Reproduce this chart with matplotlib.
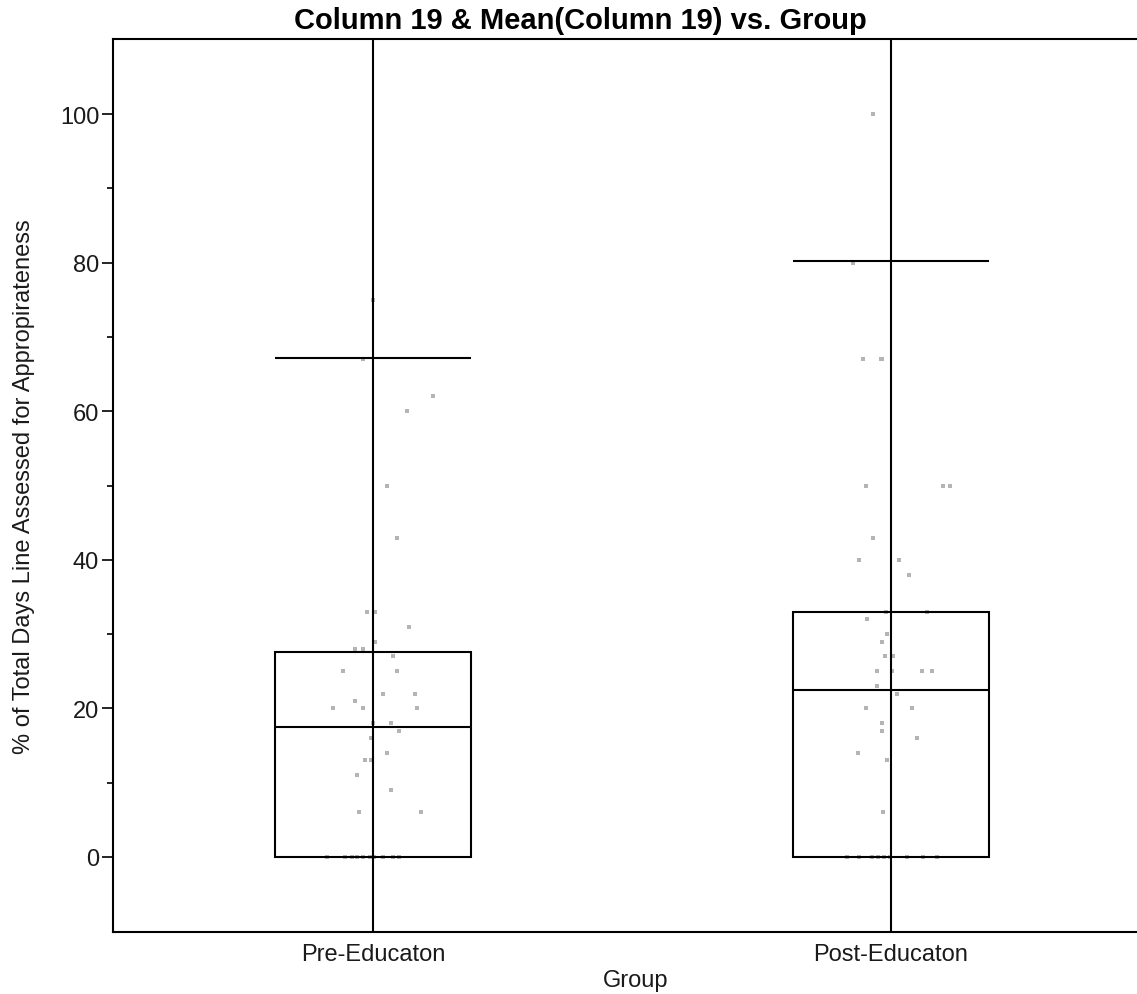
import matplotlib
matplotlib.use("Agg")
import matplotlib.pyplot as plt
import numpy as np

plt.rcParams['font.family'] = ['Liberation Sans', 'DejaVu Sans']

# Groups and summary values
groups = ['Pre-Educaton', 'Post-Educaton']
box_q1 = [0, 0]
box_median = [17.5, 22.5]
box_q3 = [27.6, 33.0]
upper_line = [67.2, 80.2]

# Individual points (value, horizontal jitter in group units)
pre_values = [75, 67, 62, 60, 50, 43, 33, 33, 31, 29, 28, 28, 27, 25, 25, 22, 22, 21,
              20, 20, 20, 18, 18, 17, 16, 14, 13, 13, 11, 9, 6, 6,
              0, 0, 0, 0, 0, 0, 0, 0, 0, 0]
pre_jitter = [0.0, -0.019, 0.116, 0.066, 0.027, 0.046, -0.012, 0.004, 0.069, 0.004,
              -0.035, -0.019, 0.039, -0.058, 0.046, 0.019, 0.081, -0.035, -0.077, -0.019,
              0.085, 0.0, 0.035, 0.050, -0.004, 0.027, -0.015, -0.004, -0.031, 0.035,
              -0.027, 0.093,
              -0.089, -0.054, -0.041, -0.031, -0.019, -0.006, 0.002, 0.019, 0.039, 0.050]

post_values = [100, 80, 67, 67, 67, 50, 50, 50, 43, 40, 40, 38, 33, 33, 32, 30, 29, 27,
               27, 25, 25, 25, 25, 23, 22, 20, 20, 18, 17, 16, 14, 13, 6,
               0, 0, 0, 0, 0, 0, 0, 0, 0]
post_jitter = [-0.035, -0.073, -0.054, -0.019, -0.017, -0.048, 0.100, 0.114, -0.035, -0.062,
               0.015, 0.035, -0.010, 0.069, -0.046, -0.008, -0.017, -0.012, 0.004, -0.027,
               0.002, 0.060, 0.079, -0.027, 0.012, -0.048, 0.041, -0.017, -0.017, 0.050,
               -0.064, -0.008, -0.015,
               -0.085, -0.062, -0.037, -0.025, -0.014, -0.002, 0.031, 0.062, 0.089]

fig = plt.figure(figsize=(11.37, 9.95), dpi=100)
ax = fig.add_axes([0.0994, 0.0623, 0.9006, 0.8975])

x = np.arange(len(groups))
box_w = 0.38
lw = 1.5
txt = '#1a1a1a'

# jittered points
ax.scatter(x[0] + np.array(pre_jitter), pre_values, marker='s', s=10, color='#b4b4b4',
           linewidths=0, zorder=1)
ax.scatter(x[1] + np.array(post_jitter), post_values, marker='s', s=10, color='#b4b4b4',
           linewidths=0, zorder=1)

# boxes
heights = np.array(box_q3) - np.array(box_q1)
ax.bar(x, heights, bottom=box_q1, width=box_w, facecolor='none', edgecolor='black',
       linewidth=lw, zorder=2)
ax.hlines(box_median, x - box_w / 2, x + box_w / 2, color='black', linewidth=lw, zorder=2)
ax.hlines(upper_line, x - box_w / 2, x + box_w / 2, color='black', linewidth=lw, zorder=2)
for xi in x:
    ax.axvline(xi, color='black', linewidth=lw, zorder=2)

ax.set_xlim(-0.502, 1.475)
ax.set_ylim(-10.1, 110.1)
ax.set_yticks([0, 20, 40, 60, 80, 100])
ax.set_yticks([10, 30, 50, 70, 90], minor=True)
ax.set_xticks(x)
ax.set_xticklabels(groups)
ax.tick_params(axis='y', which='major', direction='out', length=8, width=1.2,
               labelsize=17, pad=2, labelcolor=txt)
ax.tick_params(axis='y', which='minor', direction='out', length=4, width=1.2)
ax.tick_params(axis='x', length=0, labelsize=17, pad=8, labelcolor=txt)

ax.spines['right'].set_visible(False)
for s in ['left', 'bottom', 'top']:
    ax.spines[s].set_linewidth(1.5)

ax.set_xlabel('Group', fontsize=17, labelpad=3, color=txt, x=0.51)
ax.set_ylabel('% of Total Days Line Assessed for Appropirateness', fontsize=17,
              labelpad=18, color=txt)
fig.text(580 / 1137, 1 - 29 / 995, 'Column 19 & Mean(Column 19) vs. Group', fontsize=21,
         fontweight='bold', ha='center', va='baseline', color='black')

fig.savefig('out.png', dpi=100)
